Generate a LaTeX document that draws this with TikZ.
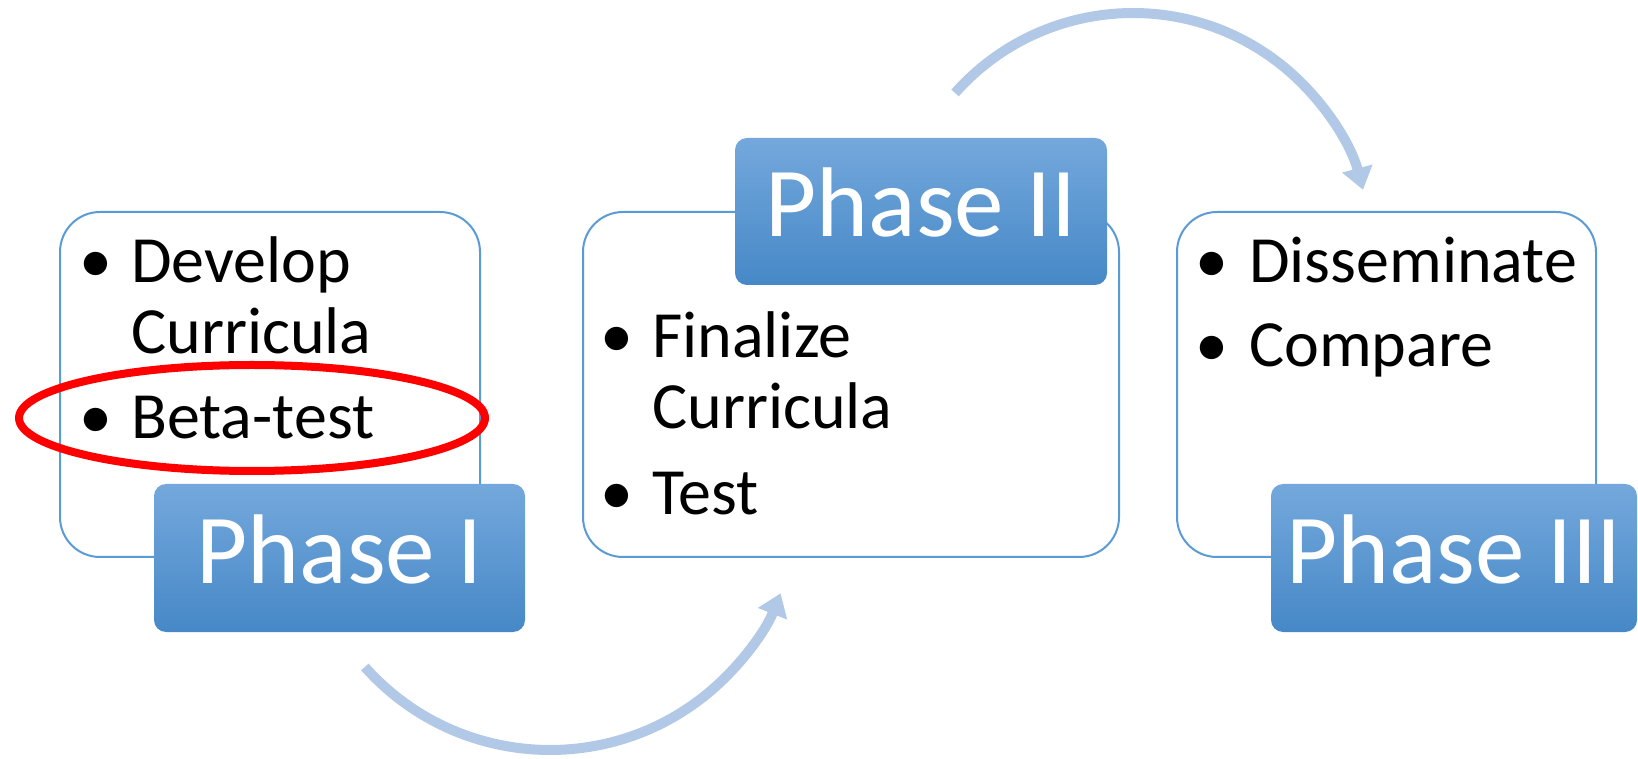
\documentclass[tikz,border=0pt]{standalone}
\usepackage{fontspec}
\setmainfont{Carlito}
\usetikzlibrary{arrows.meta}
\definecolor{boxline}{RGB}{91,155,213}
\definecolor{phasetop}{RGB}{116,168,220}
\definecolor{phasebot}{RGB}{70,136,199}
\definecolor{arrowcol}{RGB}{178,200,231}
\definecolor{ringred}{RGB}{255,0,0}
\tikzset{
  listbox/.style={draw=boxline, line width=2pt, fill=white, rounded corners=40pt},
  phasebox/.style={rounded corners=12pt, top color=phasetop, bottom color=phasebot, draw=none},
  phasetext/.style={anchor=base, text=white, inner sep=0pt, font=\fontsize{99}{119}\selectfont},
  itemtext/.style={anchor=base west, inner sep=0pt, font=\fontsize{66}{79}\selectfont},
  bulletmark/.style={anchor=base, inner sep=0pt, font=\fontsize{66}{79}\selectfont},
  cyclearrow/.style={draw=arrowcol, line width=10pt, -{Triangle[width=30pt,length=22pt]}},
  ring/.style={draw=ringred, line width=8pt}
}
\begin{document}
\begin{tikzpicture}[x=1pt,y=1pt]
\useasboundingbox (0,0) rectangle (1638,758);
% list boxes
\draw[listbox] (60,201) rectangle (480,546);
\draw[listbox] (583,201) rectangle (1119,546);
\draw[listbox] (1177,201) rectangle (1596,546);
% phase boxes
\path[phasebox] (154,126) rectangle (525,274);
\path[phasebox] (735,473) rectangle (1107,620);
\path[phasebox] (1271,126) rectangle (1637,274);
\node[phasetext] (p1) at (339.5,175) {Phase I};
\node[phasetext] (p2) at (921,521) {Phase II};
\node[phasetext] (p3) at (1454,175) {Phase III};
% box 1 items
\node[bulletmark] (b11) at (96,475) {•};
\node[itemtext] (t11) at (131,475) {Develop};
\node[itemtext] (t12) at (131,404) {Curricula};
\node[bulletmark] (b12) at (96,319) {•};
\node[itemtext] (t13) at (131,319) {Beta-test};
% box 2 items
\node[bulletmark] (b21) at (617,400) {•};
\node[itemtext] (t21) at (652,400) {Finalize};
\node[itemtext] (t22) at (652,329) {Curricula};
\node[bulletmark] (b22) at (617,243) {•};
\node[itemtext] (t23) at (652,243) {Test};
% box 3 items
\node[bulletmark] (b31) at (1212,475) {•};
\node[itemtext] (t31) at (1249,475) {Disseminate};
\node[bulletmark] (b32) at (1212,391) {•};
\node[itemtext] (t32) at (1249,391) {Compare};
% red ring
\draw[ring] (252,340) ellipse [x radius=233, y radius=53];
% cycle arrows
\coordinate (c1) at (550,256);
\coordinate (c2) at (1133,507);
\draw[cyclearrow] ([shift={(221.7:248)}]c1) arc[start angle=221.7, end angle=338.4, radius=248];
\draw[cyclearrow] ([shift={(138.4:238)}]c2) arc[start angle=138.4, end angle=14.9, radius=238];
\end{tikzpicture}
\end{document}
